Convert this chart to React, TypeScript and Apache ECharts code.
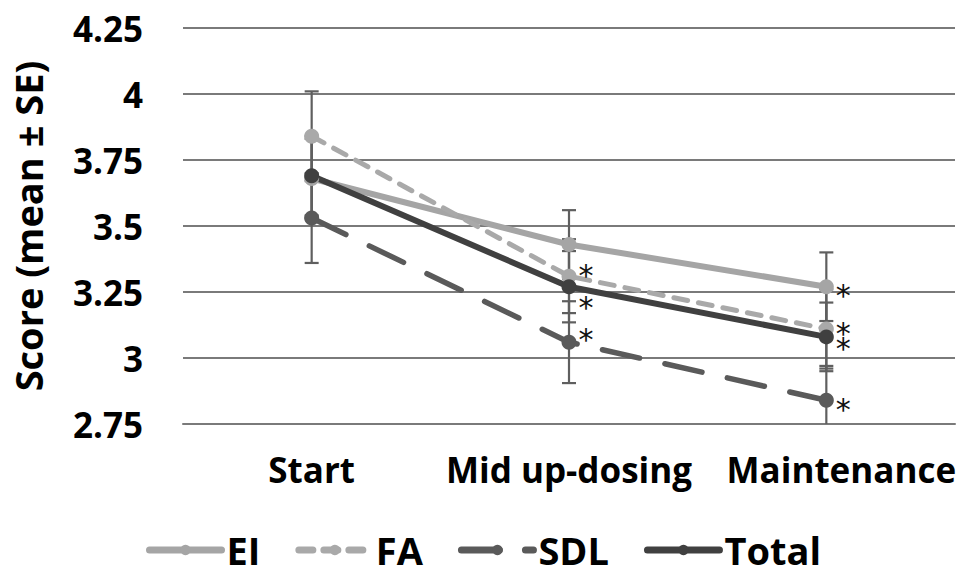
import React, { useEffect, useRef } from "react";
import * as echarts from "echarts";

const categories = ["Start", "Mid up-dosing", "Maintenance"];
const yTicks = { min: 2.75, max: 4.25, interval: 0.25 };

const seriesNames = ["EI", "FA", "SDL", "Total"];
const EI = [3.68, 3.43, 3.27];
const FA = [3.84, 3.31, 3.11];
const SDL = [3.53, 3.06, 2.84];
const Total = [3.69, 3.27, 3.08];

const EI_se = [0.15, 0.13, 0.13];
const FA_se = [0.17, 0.14, 0.15];
const SDL_se = [0.17, 0.155, 0.13];
const Total_se = [0.15, 0.135, 0.13];

// significance markers (*)
const EI_star = [false, false, true];
const FA_star = [false, true, true];
const SDL_star = [false, true, true];
const Total_star = [false, true, true];

const FONT = "Open Sans";

export default function App() {
  const ref = useRef<HTMLDivElement>(null);
  useEffect(() => {
    if (!ref.current) return;
    const chart = echarts.init(ref.current, null, { renderer: "svg" });

    const styles: any = {
      EI: { color: "#a5a5a5", width: 6, type: "solid", starDy: [0, 0, 0] },
      FA: { color: "#a9a9a9", width: 5, type: [14, 11], starDy: [0, -10, -4] },
      SDL: { color: "#5a5a5a", width: 5.5, type: [38, 26], starDy: [0, -12, 0] },
      Total: { color: "#404040", width: 6, type: "solid", starDy: [0, 12, 3] },
    };
    const values: any = { EI, FA, SDL, Total };
    const ses: any = { EI: EI_se, FA: FA_se, SDL: SDL_se, Total: Total_se };
    const stars: any = { EI: EI_star, FA: FA_star, SDL: SDL_star, Total: Total_star };

    const lineSeries = seriesNames.map((n) => {
      const s = styles[n];
      return {
        name: n,
        type: "line",
        symbol: "circle",
        symbolSize: 15,
        z: 3,
        lineStyle: { color: s.color, width: s.width, type: s.type, cap: "round" },
        itemStyle: { color: s.color },
        data: values[n].map((v: number, i: number) => ({
          value: v,
          label: stars[n][i]
            ? {
                show: true,
                formatter: "*",
                position: "right",
                distance: 2,
                offset: [0, s.starDy[i] + 9],
                fontSize: 30,
                fontFamily: "DejaVu Sans",
                color: "#111",
              }
            : { show: false },
        })),
      };
    });

    const errSeries = seriesNames.map((n) => ({
      type: "custom",
      z: 2,
      clip: true,
      silent: true,
      renderItem: (params: any, api: any) => {
        const x = api.value(0);
        const lo = api.value(1);
        const hi = api.value(2);
        const pHi = api.coord([x, hi]);
        const pLo = api.coord([x, lo]);
        const w = 7;
        const st = { stroke: "#5f5f5f", lineWidth: 2.2 };
        return {
          type: "group",
          children: [
            { type: "line", shape: { x1: pHi[0], y1: pHi[1], x2: pLo[0], y2: pLo[1] }, style: st },
            { type: "line", shape: { x1: pHi[0] - w, y1: pHi[1], x2: pHi[0] + w, y2: pHi[1] }, style: st },
            { type: "line", shape: { x1: pLo[0] - w, y1: pLo[1], x2: pLo[0] + w, y2: pLo[1] }, style: st },
          ],
        };
      },
      data: values[n].map((v: number, i: number) => [i, v - ses[n][i], v + ses[n][i]]),
    }));

    chart.setOption({
      animation: false,
      backgroundColor: "#ffffff",
      grid: { left: 183, right: 19, top: 28, bottom: 143, containLabel: false },
      legend: {
        data: seriesNames,
        left: 141,
        top: 526,
        itemWidth: 72,
        itemHeight: 13,
        itemGap: 35,
        lineStyle: { width: 7 },
        textStyle: { fontSize: 38, fontWeight: "bold", fontFamily: FONT, color: "#000" },
      },
      xAxis: {
        type: "category",
        data: categories,
        boundaryGap: true,
        axisLine: { show: true, lineStyle: { color: "#7a7a7a", width: 2 } },
        axisTick: { show: false },
        axisLabel: {
          interval: 0,
          margin: 28,
          fontSize: 35,
          fontWeight: "bold",
          fontFamily: FONT,
          color: "#000",
          formatter: (v: string) => (v === categories[2] ? "{r|" + v + "}" : v),
          rich: {
            r: {
              padding: [0, 0, 0, 30],
              fontSize: 35,
              fontWeight: "bold",
              fontFamily: FONT,
              color: "#000",
            },
          },
        },
      },
      yAxis: {
        type: "value",
        min: yTicks.min,
        max: yTicks.max,
        interval: yTicks.interval,
        name: "Score (mean ± SE)",
        nameLocation: "middle",
        nameGap: 136,
        nameTextStyle: { fontSize: 38, fontWeight: "bold", fontFamily: FONT, color: "#000" },
        axisLine: { show: false },
        axisTick: { show: false },
        splitLine: { lineStyle: { color: "#7a7a7a", width: 2 } },
        axisLabel: {
          margin: 40,
          fontSize: 35,
          fontWeight: "bold",
          fontFamily: FONT,
          color: "#000",
        },
      },
      series: [...lineSeries, ...errSeries],
    });
    return () => chart.dispose();
  }, []);
  return <div ref={ref} style={{ width: 974, height: 567, position: "absolute", left: 0, top: 0 }} />;
}
